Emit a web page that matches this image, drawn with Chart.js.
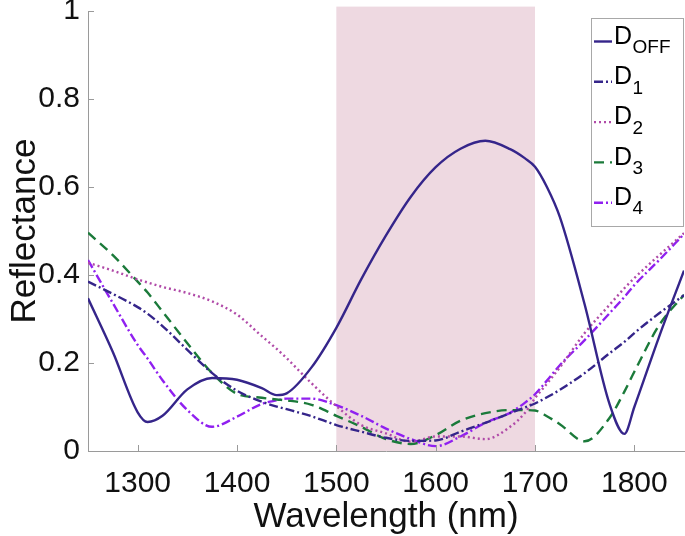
<!DOCTYPE html>
<html><head><meta charset="utf-8">
<script src="https://cdn.jsdelivr.net/npm/chart.js@4/dist/chart.umd.min.js"></script>
<style>html,body{margin:0;padding:0;background:#fff;}#wrap{position:relative;width:685px;height:536px;}canvas{display:block;}</style>
</head><body><div id="wrap"><canvas id="c" width="685" height="536"></canvas></div>
<script>
// ---- data ----
const wavelengths = [1250,1275,1300,1310,1325,1350,1375,1400,1425,1440,1450,1475,1500,1525,1550,1575,1600,1625,1650,1675,1690,1700,1712,1725,1750,1775,1790,1800,1825,1850];
const dOff = [0.347,0.225,0.088,0.066,0.08,0.14,0.166,0.162,0.143,0.127,0.131,0.19,0.28,0.39,0.49,0.578,0.645,0.687,0.705,0.686,0.665,0.646,0.60,0.532,0.333,0.107,0.039,0.10,0.26,0.41];
const d1   = [0.385,0.357,0.327,0.312,0.284,0.23,0.177,0.137,0.112,0.101,0.095,0.079,0.059,0.044,0.03,0.023,0.024,0.044,0.064,0.086,0.099,0.108,0.122,0.139,0.177,0.222,0.248,0.268,0.313,0.354];
const d2   = [0.428,0.41,0.39,0.383,0.373,0.359,0.34,0.31,0.261,0.232,0.211,0.154,0.102,0.059,0.04,0.021,0.033,0.033,0.027,0.055,0.087,0.12,0.153,0.19,0.268,0.332,0.37,0.393,0.445,0.495];
const d3   = [0.496,0.445,0.385,0.36,0.317,0.245,0.177,0.13,0.121,0.117,0.115,0.105,0.08,0.055,0.027,0.016,0.036,0.069,0.086,0.093,0.093,0.092,0.079,0.061,0.022,0.075,0.135,0.18,0.286,0.355];
const d4   = [0.434,0.336,0.241,0.21,0.161,0.093,0.055,0.078,0.107,0.115,0.119,0.119,0.104,0.08,0.051,0.027,0.011,0.033,0.064,0.087,0.11,0.129,0.16,0.195,0.252,0.313,0.35,0.377,0.434,0.493];
const subscripts = ['OFF','1','2','3','4'];
const xTickValues = [1300,1400,1500,1600,1700,1800];
const yTickValues = [0,0.2,0.4,0.6,0.8,1];
const bandRange = [1500,1700];
const bandTop = 1.01;

const FONT = "'Liberation Sans', Arial, Helvetica, sans-serif";
const AXIS_GRAY = '#9a9a9a';

function pts(vals){ return wavelengths.map((w,i)=>({x:w,y:vals[i]})); }
const styles = [
  {color:'#35258a', dash:[]},
  {color:'#35258a', dash:[9,3,2,3]},
  {color:'#b04aa8', dash:[2,3]},
  {color:'#1b7a3a', dash:[10,6]},
  {color:'#9020f0', dash:[9,3,2,3]}
];
const seriesVals = [dOff,d1,d2,d3,d4];
const datasets = seriesVals.map((v,i)=>({
  label:'D'+subscripts[i],
  data:pts(v),
  borderColor:styles[i].color,
  borderDash:styles[i].dash,
  borderWidth:2.4,
  pointRadius:0,
  fill:false,
  cubicInterpolationMode:'monotone'
}));

const bandPlugin = {
  id:'band',
  beforeDatasetsDraw(chart){
    const {ctx, scales:{x,y}} = chart;
    const x0 = x.getPixelForValue(bandRange[0]), x1 = x.getPixelForValue(bandRange[1]);
    const y0 = y.getPixelForValue(bandTop), y1 = y.getPixelForValue(0);
    ctx.save(); ctx.fillStyle = '#eed9e1'; ctx.fillRect(x0, y0, x1-x0, y1-y0); ctx.restore();
  }
};

const ticksPlugin = {
  id:'inTicks',
  afterDraw(chart){
    const {ctx, scales:{x,y}} = chart;
    ctx.save(); ctx.strokeStyle = AXIS_GRAY; ctx.lineWidth = 1;
    ctx.beginPath();
    xTickValues.forEach(v=>{ const px = Math.round(x.getPixelForValue(v))+0.5; ctx.moveTo(px, y.bottom); ctx.lineTo(px, y.bottom-6); });
    yTickValues.forEach(v=>{ const py = Math.round(y.getPixelForValue(v))+0.5; ctx.moveTo(x.left, py); ctx.lineTo(x.left+6, py); });
    ctx.stroke(); ctx.restore();
  }
};

const legendPlugin = {
  id:'subLegend',
  afterDraw(chart){
    const ctx = chart.ctx;
    ctx.save();
    ctx.fillStyle = '#fff';
    ctx.fillRect(591.5, 18.5, 92, 208);
    ctx.strokeStyle = '#a8a8a8'; ctx.lineWidth = 1;
    ctx.strokeRect(591.5, 18.5, 92, 208);
    const ds = chart.data.datasets;
    ds.forEach((d,i)=>{
      const cy = 37 + i*40.3;
      const ly = cy + 4.5;
      ctx.save();
      ctx.strokeStyle = d.borderColor; ctx.lineWidth = 2.4; ctx.setLineDash(d.borderDash||[]);
      ctx.beginPath(); ctx.moveTo(594, ly); ctx.lineTo(612, ly); ctx.stroke();
      ctx.restore();
      ctx.fillStyle = '#000';
      ctx.textBaseline = 'middle'; ctx.textAlign = 'left';
      ctx.font = '25px ' + FONT;
      ctx.fillText('D', 614, cy);
      const w = ctx.measureText('D').width;
      ctx.font = '19px ' + FONT;
      ctx.fillText(subscripts[i], 614 + w + 0.5, cy + 11);
    });
    ctx.restore();
  }
};

new Chart(document.getElementById('c'), {
  type:'line',
  data:{datasets},
  plugins:[bandPlugin, ticksPlugin, legendPlugin],
  options:{
    responsive:false, animation:false, devicePixelRatio:1,
    layout:{padding:{top:11, right:1, left:0, bottom:0}},
    plugins:{legend:{display:false}, tooltip:{enabled:false}},
    scales:{
      x:{
        type:'linear', min:1250, max:1850,
        afterBuildTicks(s){ s.ticks = xTickValues.map(v=>({value:v})); },
        afterFit(s){ s.height = 85; s.paddingLeft = 0; s.paddingRight = 0; },
        grid:{display:false, drawTicks:false},
        border:{display:true, color:AXIS_GRAY, width:1},
        ticks:{color:'#111', padding:15, maxRotation:0, autoSkip:false, font:{family:FONT, size:30, lineHeight:1.2}, callback:(v)=>String(v)},
        title:{display:true, text:'Wavelength (nm)', color:'#111', font:{family:FONT, size:35, lineHeight:1}, padding:{top:0,bottom:1}}
      },
      y:{
        min:0, max:1,
        afterBuildTicks(s){ s.ticks = yTickValues.map(v=>({value:v})); },
        afterFit(s){ s.width = 88; s.paddingTop = 0; s.paddingBottom = 0; },
        grid:{display:false, drawTicks:false},
        border:{display:true, color:AXIS_GRAY, width:1},
        ticks:{color:'#111', padding:8, autoSkip:false, font:{family:FONT, size:30, lineHeight:1.2}, callback:(v)=>String(Math.round(v*10)/10)},
        title:{display:true, text:'Reflectance', color:'#111', font:{family:FONT, size:35, lineHeight:1.2}, padding:{top:4,bottom:0}}
      }
    }
  }
});
</script>
</body></html>
